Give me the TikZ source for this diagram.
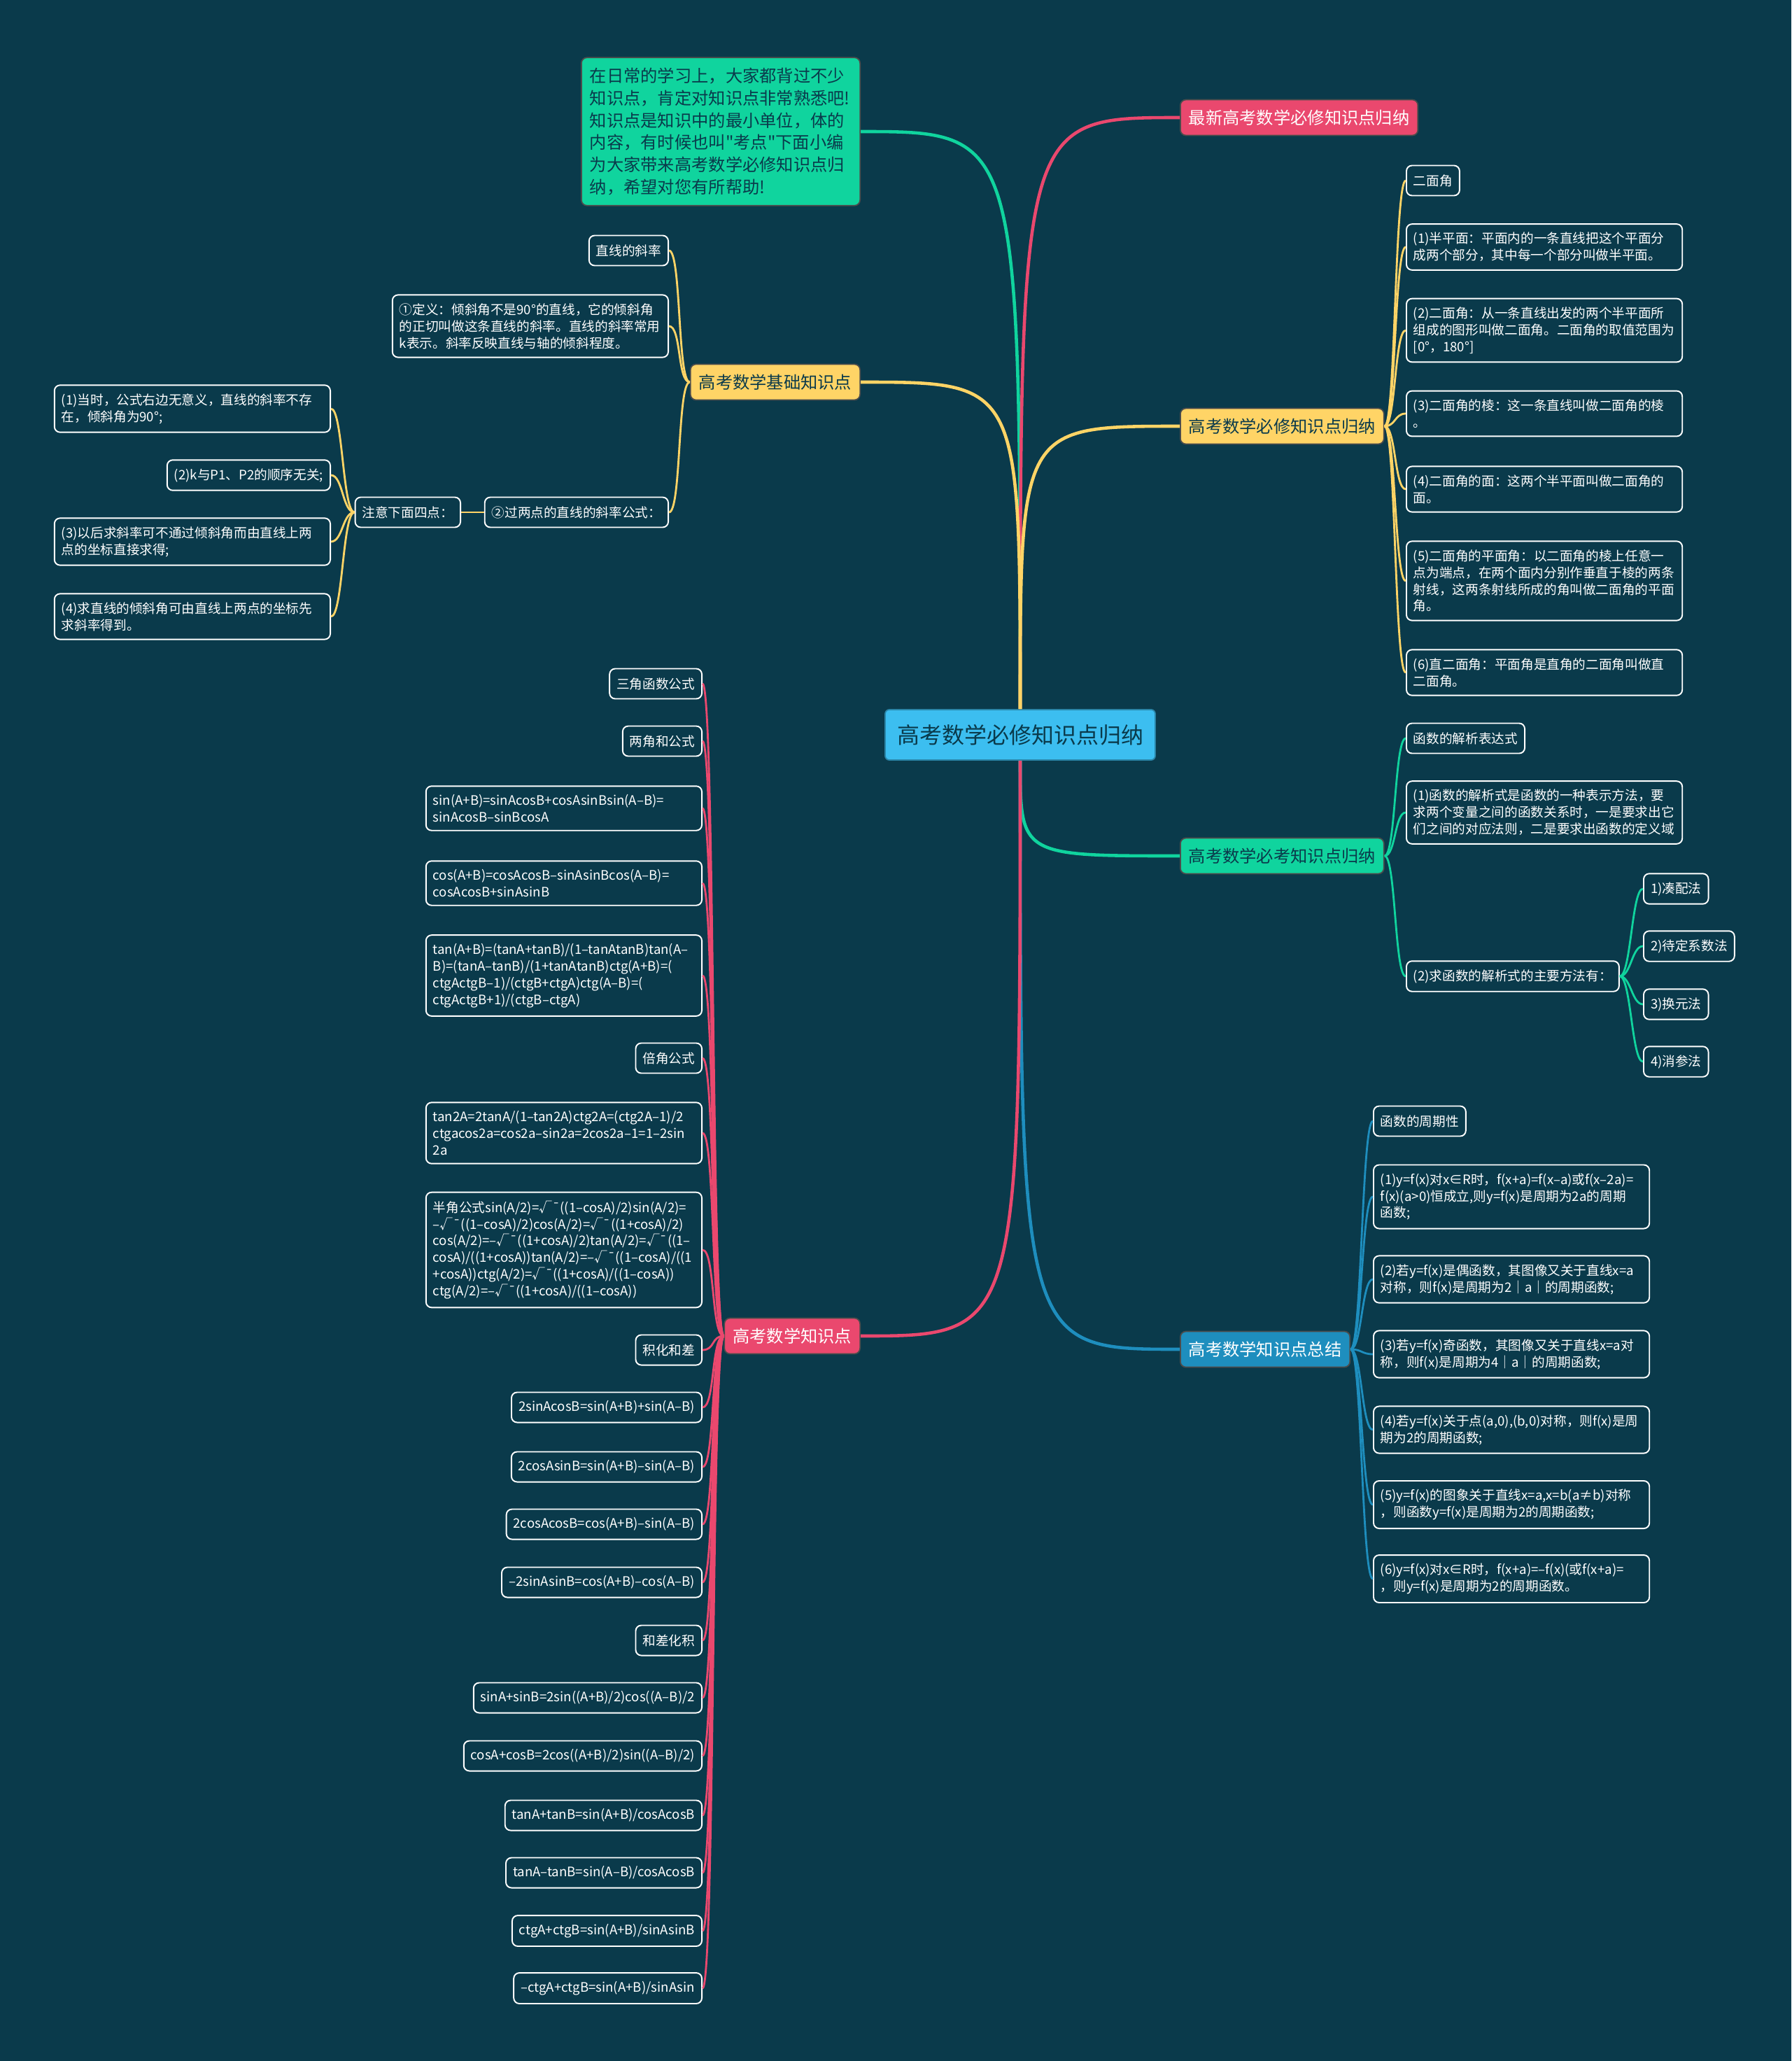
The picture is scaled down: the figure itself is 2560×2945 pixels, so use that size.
\documentclass[tikz,border=0pt]{standalone}
\usepackage{fontspec}
\setmainfont{Noto Sans CJK SC}
\definecolor{mmbg}{RGB}{10,58,75}
\definecolor{mmroot}{RGB}{60,190,240}
\definecolor{mmgreen}{RGB}{16,212,158}
\definecolor{mmred}{RGB}{234,72,110}
\definecolor{mmyellow}{RGB}{255,212,102}
\definecolor{mmblue}{RGB}{30,142,190}
\tikzset{
  leaf/.style={draw=white, fill=mmbg, line width=0.55pt, rounded corners=0.08cm, text=white, align=left,
    inner xsep=0.1cm, inner ysep=0.12cm, minimum height=0.43cm, font=\fontsize{5.3}{6.8}\selectfont},
  wideleaf/.style={leaf, text width=3.74cm},
  branch/.style={draw=black!70, line width=0.5pt, rounded corners=0.08cm, inner xsep=0.12cm, inner ysep=0.13cm,
    minimum height=0.51cm, text=mmbg, font=\fontsize{6.9}{8.5}\selectfont},
  trunk/.style={line width=1.3pt},
  link/.style={line width=0.8pt}
}
\begin{document}
\begin{tikzpicture}[x=0.01cm, y=-0.01cm]
  \fill[mmbg] (0,0) rectangle (2560,2945);

  %% Root and main branches
  \node[branch, fill=mmroot, draw=mmroot!70!black, inner xsep=0.17cm, minimum height=0.72cm, rounded corners=0.06cm, font=\fontsize{9.1}{11}\selectfont] (root) at (1458,1050) {高考数学必修知识点归纳};
  \node[branch, fill=mmred, text=white, anchor=west] (latest) at (1686,168) {最新高考数学必修知识点归纳};
  \node[branch, fill=mmgreen, anchor=east, align=left, text width=3.74cm, inner ysep=0.15cm, font=\fontsize{6.9}{9}\selectfont] (intro) at (1230,188)
    {在日常的学习上，大家都背过不少\\知识点，肯定对知识点非常熟悉吧!\\知识点是知识中的最小单位，体的\\内容，有时候也叫\textquotedbl 考点\textquotedbl 下面小编\\为大家带来高考数学必修知识点归\\纳，希望对您有所帮助!};
  \node[branch, fill=mmyellow, anchor=east] (basic) at (1230,546) {高考数学基础知识点};
  \node[branch, fill=mmyellow, anchor=west] (required) at (1686,609) {高考数学必修知识点归纳};
  \node[branch, fill=mmgreen, anchor=west] (exam) at (1686,1223) {高考数学必考知识点归纳};
  \node[branch, fill=mmblue, text=white, anchor=west] (summary) at (1686,1928) {高考数学知识点总结};
  \node[branch, fill=mmred, text=white, anchor=east] (points) at (1230,1909) {高考数学知识点};

  \draw[trunk, mmgreen] (root.north) .. controls (root.north |- intro.east) .. (intro.east);
  \draw[trunk, mmred] (root.north) .. controls (root.north |- latest.west) .. (latest.west);
  \draw[trunk, mmyellow] (root.north) .. controls (root.north |- basic.east) .. (basic.east);
  \draw[trunk, mmyellow] (root.north) .. controls (root.north |- required.west) .. (required.west);
  \draw[trunk, mmgreen] (root.south) .. controls (root.south |- exam.west) .. (exam.west);
  \draw[trunk, mmblue] (root.south) .. controls (root.south |- summary.west) .. (summary.west);
  \draw[trunk, mmred] (root.south) .. controls (root.south |- points.east) .. (points.east);

  %% Basic knowledge (left, yellow)
  \node[leaf, anchor=east] (y1) at (956,358) {直线的斜率};
  \node[wideleaf, anchor=east] (y2) at (956,466) {①定义：倾斜角不是90°的直线，它的倾斜角\\的正切叫做这条直线的斜率。直线的斜率常用\\k表示。斜率反映直线与轴的倾斜程度。};
  \node[leaf, anchor=east] (y3) at (956,732) {②过两点的直线的斜率公式：};
  \node[leaf, anchor=east] (y4) at (659,732) {注意下面四点：};
  \node[wideleaf, anchor=east] (y5) at (473,584) {(1)当时，公式右边无意义，直线的斜率不存\\在，倾斜角为90°;};
  \node[leaf, anchor=east] (y6) at (473,679) {(2)k与P1、P2的顺序无关;};
  \node[wideleaf, anchor=east] (y7) at (473,774) {(3)以后求斜率可不通过倾斜角而由直线上两\\点的坐标直接求得;};
  \node[wideleaf, anchor=east] (y8) at (473,881) {(4)求直线的倾斜角可由直线上两点的坐标先\\求斜率得到。};

  \foreach \c in {y1,y2,y3}
    \draw[link, mmyellow] (basic.west) .. controls +(-18,0) and +(18,0) .. (\c.east);
  \draw[link, mmyellow] (y3.west) -- (y4.east);
  \foreach \c in {y5,y6,y7,y8}
    \draw[link, mmyellow] (y4.west) .. controls +(-17,0) and +(17,0) .. (\c.east);

  %% Dihedral angle (right, yellow)
  \node[leaf, anchor=west] (d1) at (2009,258) {二面角};
  \node[wideleaf, anchor=west] (d2) at (2009,353) {(1)半平面：平面内的一条直线把这个平面分\\成两个部分，其中每一个部分叫做半平面。};
  \node[wideleaf, anchor=west] (d3) at (2009,472) {(2)二面角：从一条直线出发的两个半平面所\\组成的图形叫做二面角。二面角的取值范围为\\{[}0°，180°]};
  \node[wideleaf, anchor=west] (d4) at (2009,591) {(3)二面角的棱：这一条直线叫做二面角的棱\\。};
  \node[wideleaf, anchor=west] (d5) at (2009,699) {(4)二面角的面：这两个半平面叫做二面角的\\面。};
  \node[wideleaf, anchor=west] (d6) at (2009,830) {(5)二面角的平面角：以二面角的棱上任意一\\点为端点，在两个面内分别作垂直于棱的两条\\射线，这两条射线所成的角叫做二面角的平面\\角。};
  \node[wideleaf, anchor=west] (d7) at (2009,961) {(6)直二面角：平面角是直角的二面角叫做直\\二面角。};

  \foreach \c in {d1,d2,d3,d4,d5,d6,d7}
    \draw[link, mmyellow] (required.east) .. controls +(16,0) and +(-16,0) .. (\c.west);

  %% Function expressions (right, green)
  \node[leaf, anchor=west] (g1) at (2009,1055) {函数的解析表达式};
  \node[wideleaf, anchor=west] (g2) at (2009,1161) {(1)函数的解析式是函数的一种表示方法，要\\求两个变量之间的函数关系时，一是要求出它\\们之间的对应法则，二是要求出函数的定义域};
  \node[leaf, anchor=west] (g3) at (2009,1395) {(2)求函数的解析式的主要方法有：};
  \node[leaf, anchor=west] (m1) at (2348,1270) {1)凑配法};
  \node[leaf, anchor=west] (m2) at (2348,1352) {2)待定系数法};
  \node[leaf, anchor=west] (m3) at (2348,1435) {3)换元法};
  \node[leaf, anchor=west] (m4) at (2348,1517) {4)消参法};

  \foreach \c in {g1,g2,g3}
    \draw[link, mmgreen] (exam.east) .. controls +(16,0) and +(-16,0) .. (\c.west);
  \foreach \c in {m1,m2,m3,m4}
    \draw[link, mmgreen] (g3.east) .. controls +(16,0) and +(-16,0) .. (\c.west);

  %% Periodicity (right, blue)
  \node[leaf, anchor=west] (p1) at (1962,1602) {函数的周期性};
  \node[wideleaf, anchor=west] (p2) at (1962,1710) {(1)y=f(x)对x∈R时，f(x+a)=f(x–a)或f(x–2a)=\\f(x)(a>0)恒成立,则y=f(x)是周期为2a的周期\\函数;};
  \node[wideleaf, anchor=west] (p3) at (1962,1828) {(2)若y=f(x)是偶函数，其图像又关于直线x=a\\对称，则f(x)是周期为2｜a｜的周期函数;};
  \node[wideleaf, anchor=west] (p4) at (1962,1935) {(3)若y=f(x)奇函数，其图像又关于直线x=a对\\称，则f(x)是周期为4｜a｜的周期函数;};
  \node[wideleaf, anchor=west] (p5) at (1962,2043) {(4)若y=f(x)关于点(a,0),(b,0)对称，则f(x)是周\\期为2的周期函数;};
  \node[wideleaf, anchor=west] (p6) at (1962,2150) {(5)y=f(x)的图象关于直线x=a,x=b(a≠b)对称\\，则函数y=f(x)是周期为2的周期函数;};
  \node[wideleaf, anchor=west] (p7) at (1962,2256) {(6)y=f(x)对x∈R时，f(x+a)=–f(x)(或f(x+a)=\\，则y=f(x)是周期为2的周期函数。};

  \foreach \c in {p1,p2,p3,p4,p5,p6,p7}
    \draw[link, mmblue] (summary.east) .. controls +(16,0) and +(-16,0) .. (\c.west);

  %% Trigonometric formulas (left, red)
  \node[leaf, anchor=east] (t1) at (1004,977) {三角函数公式};
  \node[leaf, anchor=east] (t2) at (1004,1059) {两角和公式};
  \node[wideleaf, anchor=east] (t3) at (1004,1155) {sin(A+B)=sinAcosB+cosAsinBsin(A–B)=\\sinAcosB–sinBcosA};
  \node[wideleaf, anchor=east] (t4) at (1004,1262) {cos(A+B)=cosAcosB–sinAsinBcos(A–B)=\\cosAcosB+sinAsinB};
  \node[wideleaf, anchor=east] (t5) at (1004,1394) {tan(A+B)=(tanA+tanB)/(1–tanAtanB)tan(A–\\B)=(tanA–tanB)/(1+tanAtanB)ctg(A+B)=(\\ctgActgB–1)/(ctgB+ctgA)ctg(A–B)=(\\ctgActgB+1)/(ctgB–ctgA)};
  \node[leaf, anchor=east] (t6) at (1004,1512) {倍角公式};
  \node[wideleaf, anchor=east] (t7) at (1004,1619) {tan2A=2tanA/(1–tan2A)ctg2A=(ctg2A–1)/2\\ctgacos2a=cos2a–sin2a=2cos2a–1=1–2sin\\2a};
  \node[wideleaf, anchor=east] (t8) at (1004,1786) {半角公式sin(A/2)=√¯((1–cosA)/2)sin(A/2)=\\–√¯((1–cosA)/2)cos(A/2)=√¯((1+cosA)/2)\\cos(A/2)=–√¯((1+cosA)/2)tan(A/2)=√¯((1–\\cosA)/((1+cosA))tan(A/2)=–√¯((1–cosA)/((1\\+cosA))ctg(A/2)=√¯((1+cosA)/((1–cosA))\\ctg(A/2)=–√¯((1+cosA)/((1–cosA))};
  \node[leaf, anchor=east] (t9) at (1004,1929) {积化和差};
  \node[leaf, anchor=east] (t10) at (1004,2011) {2sinAcosB=sin(A+B)+sin(A–B)};
  \node[leaf, anchor=east] (t11) at (1004,2096) {2cosAsinB=sin(A+B)–sin(A–B)};
  \node[leaf, anchor=east] (t12) at (1004,2178) {2cosAcosB=cos(A+B)–sin(A–B)};
  \node[leaf, anchor=east] (t13) at (1004,2261) {–2sinAsinB=cos(A+B)–cos(A–B)};
  \node[leaf, anchor=east] (t14) at (1004,2344) {和差化积};
  \node[leaf, anchor=east] (t15) at (1004,2426) {sinA+sinB=2sin((A+B)/2)cos((A–B)/2};
  \node[leaf, anchor=east] (t16) at (1004,2509) {cosA+cosB=2cos((A+B)/2)sin((A–B)/2)};
  \node[leaf, anchor=east] (t17) at (1004,2594) {tanA+tanB=sin(A+B)/cosAcosB};
  \node[leaf, anchor=east] (t18) at (1004,2676) {tanA–tanB=sin(A–B)/cosAcosB};
  \node[leaf, anchor=east] (t19) at (1004,2759) {ctgA+ctgB=sin(A+B)/sinAsinB};
  \node[leaf, anchor=east] (t20) at (1004,2841) {–ctgA+ctgB=sin(A+B)/sinAsin};

  \foreach \c in {t1,t2,t3,t4,t5,t6,t7,t8,t9,t10,t11,t12,t13,t14,t15,t16,t17,t18,t19,t20}
    \draw[link, mmred] (points.west) .. controls +(-18,0) and +(18,0) .. (\c.east);
\end{tikzpicture}
\end{document}
